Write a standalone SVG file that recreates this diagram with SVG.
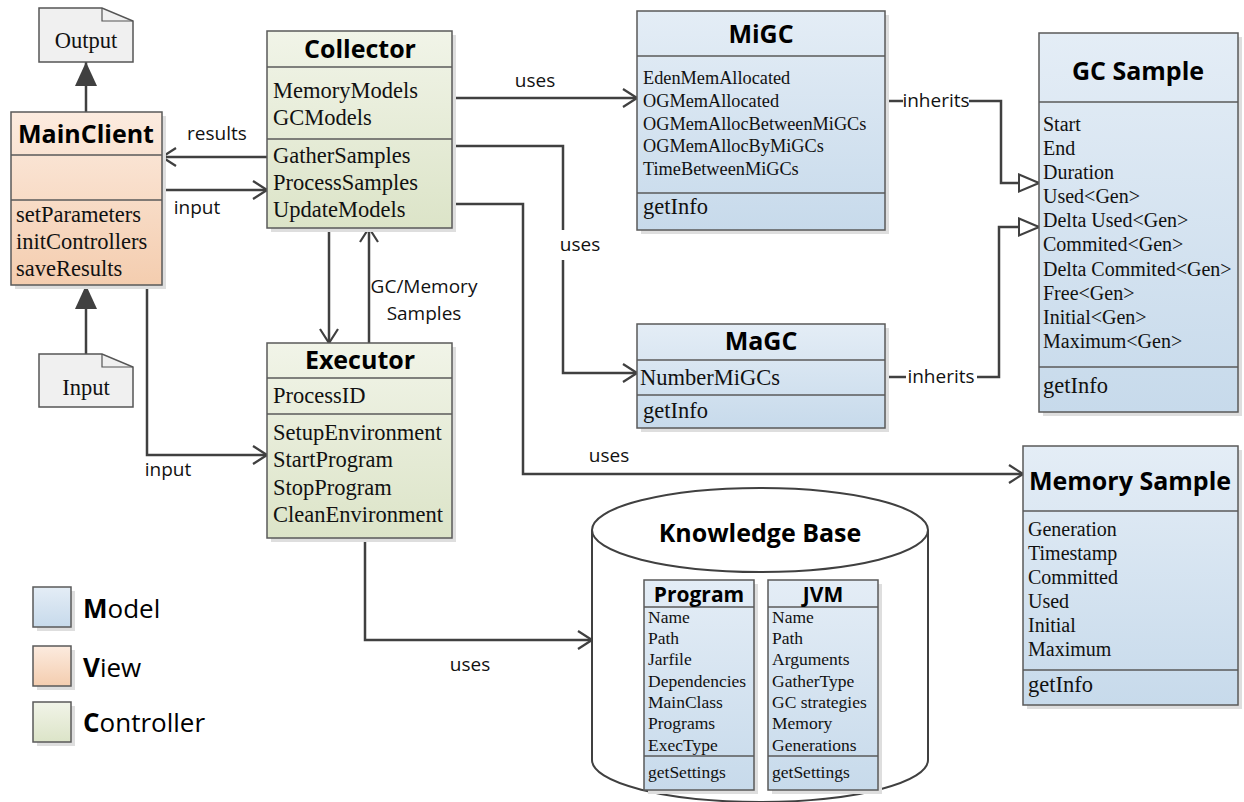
<svg xmlns="http://www.w3.org/2000/svg" width="1244" height="802" viewBox="0 0 1244 802">
<defs>
<linearGradient id="gM" x1="0" y1="0" x2="0" y2="1"><stop offset="0" stop-color="#e4edf6"/><stop offset="1" stop-color="#c7daeb"/></linearGradient>
<linearGradient id="gV" x1="0" y1="0" x2="0" y2="1"><stop offset="0" stop-color="#fcebdf"/><stop offset="1" stop-color="#f4cdaf"/></linearGradient>
<linearGradient id="gC" x1="0" y1="0" x2="0" y2="1"><stop offset="0" stop-color="#f1f4e8"/><stop offset="1" stop-color="#dce4c8"/></linearGradient>
<marker id="open" viewBox="0 0 16 20" refX="15" refY="10" markerWidth="16" markerHeight="20" orient="auto" markerUnits="userSpaceOnUse"><path d="M1,1 L15,10 L1,19" fill="none" stroke="#404040" stroke-width="2.2"/></marker>
<marker id="tri" viewBox="0 0 22 20" refX="21" refY="10" markerWidth="22" markerHeight="20" orient="auto" markerUnits="userSpaceOnUse"><path d="M1,1.5 L21,10 L1,18.5 Z" fill="#ffffff" stroke="#404040" stroke-width="2"/></marker>
<marker id="solid" viewBox="0 0 24 22" refX="24" refY="11" markerWidth="24" markerHeight="22" orient="auto" markerUnits="userSpaceOnUse"><path d="M0,0 L24,11 L0,22 Z" fill="#404040"/></marker>
</defs>
<style>
.box{stroke:#5a5a5a;stroke-width:1.5}
.sh{fill:#dedede}
.sep{stroke:#5a5a5a;stroke-width:1.5}
.hd{font-family:"Open Sans","Liberation Sans",sans-serif;font-weight:bold;font-size:25px;fill:#000;text-anchor:middle}
.hs{font-family:"Open Sans","Liberation Sans",sans-serif;font-weight:bold;font-size:21px;fill:#000;text-anchor:middle}
.t22{font-family:"Liberation Serif",serif;font-size:22.5px;fill:#111}
.t20{font-family:"Liberation Serif",serif;font-size:20px;fill:#111}
.t18{font-family:"Liberation Serif",serif;font-size:18.3px;fill:#111}
.t17{font-family:"Liberation Serif",serif;font-size:17.5px;fill:#111}
.lbl{font-family:"Open Sans","Liberation Sans",sans-serif;font-size:19px;fill:#111}
.leg{font-family:"Open Sans","Liberation Sans",sans-serif;font-size:26px;fill:#000}
.ln{fill:none;stroke:#404040;stroke-width:2.5}
.note{fill:#f0f0f0;stroke:#555;stroke-width:1.5}
</style>

<g id="connectors">
<path class="ln" d="M86,112 V62" marker-end="url(#solid)"/>
<path class="ln" d="M86,354 V285" marker-end="url(#solid)"/>
<path class="ln" d="M267,157 H162" marker-end="url(#open)"/>
<path class="ln" d="M162,190 H267" marker-end="url(#open)"/>
<path class="ln" d="M147,285 V455 H267" marker-end="url(#open)"/>
<path class="ln" d="M329,228 V343" marker-end="url(#open)"/>
<path class="ln" d="M369,343 V228" marker-end="url(#open)"/>
<path class="ln" d="M452,98 H637" marker-end="url(#open)"/>
<path class="ln" d="M452,146 H563 V230"/>
<path class="ln" d="M563,260 V373 H637" marker-end="url(#open)"/>
<path class="ln" d="M452,204 H523 V474 H1023" marker-end="url(#open)"/>
<path class="ln" d="M365,538 V640 H592" marker-end="url(#open)"/>
<path class="ln" d="M885,101 H903"/>
<path class="ln" d="M969,101 H1001 V183 H1039" marker-end="url(#tri)"/>
<path class="ln" d="M885,377 H906"/>
<path class="ln" d="M977,377 H999 V227 H1039" marker-end="url(#tri)"/>
<text class="lbl" x="217" y="140" text-anchor="middle">results</text>
<text class="lbl" x="197" y="214" text-anchor="middle">input</text>
<text class="lbl" x="168" y="476" text-anchor="middle">input</text>
<text class="lbl" x="424" y="293" text-anchor="middle">GC/Memory</text>
<text class="lbl" x="424" y="320" text-anchor="middle">Samples</text>
<text class="lbl" x="535" y="87" text-anchor="middle">uses</text>
<text class="lbl" x="580" y="251" text-anchor="middle">uses</text>
<text class="lbl" x="609" y="462" text-anchor="middle">uses</text>
<text class="lbl" x="470" y="671" text-anchor="middle">uses</text>
<text class="lbl" x="936" y="107" text-anchor="middle">inherits</text>
<text class="lbl" x="941" y="383" text-anchor="middle">inherits</text>
</g>

<g id="Output">
<path class="note" d="M39,8 H102 L133,21 V62 H39 Z"/>
<path d="M102,8 V21 H133" fill="none" stroke="#555" stroke-width="1.2"/>
<text class="t22" x="86" y="48" text-anchor="middle">Output</text>
</g>

<g id="Input">
<path class="note" d="M39,354 H102 L133,367 V407 H39 Z"/>
<path d="M102,354 V367 H133" fill="none" stroke="#555" stroke-width="1.2"/>
<text class="t22" x="86" y="395" text-anchor="middle">Input</text>
</g>

<g id="MainClient">
<rect class="sh" x="15" y="116" width="151" height="173"/>
<rect class="box" x="11" y="112" width="151" height="173" fill="url(#gV)"/>
<line class="sep" x1="11" y1="155" x2="162" y2="155"/>
<line class="sep" x1="11" y1="200" x2="162" y2="200"/>
<text class="hd" x="86" y="143">MainClient</text>
<text class="t22" x="16" y="222">setParameters</text>
<text class="t22" x="16" y="249">initControllers</text>
<text class="t22" x="16" y="276">saveResults</text>
</g>

<g id="Collector">
<rect class="sh" x="271" y="35" width="185" height="197"/>
<rect class="box" x="267" y="31" width="185" height="197" fill="url(#gC)"/>
<line class="sep" x1="267" y1="67" x2="452" y2="67"/>
<line class="sep" x1="267" y1="139" x2="452" y2="139"/>
<text class="hd" x="360" y="58">Collector</text>
<text class="t22" x="273" y="98">MemoryModels</text>
<text class="t22" x="273" y="125">GCModels</text>
<text class="t22" x="273" y="163">GatherSamples</text>
<text class="t22" x="273" y="190">ProcessSamples</text>
<text class="t22" x="273" y="217">UpdateModels</text>
</g>

<g id="Executor">
<rect class="sh" x="271" y="347" width="185" height="195"/>
<rect class="box" x="267" y="343" width="185" height="195" fill="url(#gC)"/>
<line class="sep" x1="267" y1="378" x2="452" y2="378"/>
<line class="sep" x1="267" y1="414" x2="452" y2="414"/>
<text class="hd" x="360" y="369">Executor</text>
<text class="t22" x="273" y="403">ProcessID</text>
<text class="t22" x="273" y="440">SetupEnvironment</text>
<text class="t22" x="273" y="467">StartProgram</text>
<text class="t22" x="273" y="495">StopProgram</text>
<text class="t22" x="273" y="522">CleanEnvironment</text>
</g>

<g id="MiGC">
<rect class="sh" x="641" y="15" width="248" height="219"/>
<rect class="box" x="637" y="11" width="248" height="219" fill="url(#gM)"/>
<line class="sep" x1="637" y1="56" x2="885" y2="56"/>
<line class="sep" x1="637" y1="193" x2="885" y2="193"/>
<text class="hd" x="761" y="43">MiGC</text>
<text class="t18" x="643" y="84">EdenMemAllocated</text>
<text class="t18" x="643" y="107">OGMemAllocated</text>
<text class="t18" x="643" y="130">OGMemAllocBetweenMiGCs</text>
<text class="t18" x="643" y="152">OGMemAllocByMiGCs</text>
<text class="t18" x="643" y="175">TimeBetweenMiGCs</text>
<text class="t22" x="643" y="214">getInfo</text>
</g>

<g id="MaGC">
<rect class="sh" x="641" y="328" width="248" height="104"/>
<rect class="box" x="637" y="324" width="248" height="104" fill="url(#gM)"/>
<line class="sep" x1="637" y1="360" x2="885" y2="360"/>
<line class="sep" x1="637" y1="395" x2="885" y2="395"/>
<text class="hd" x="761" y="350">MaGC</text>
<text class="t22" x="640" y="385">NumberMiGCs</text>
<text class="t22" x="643" y="418">getInfo</text>
</g>

<g id="GCSample">
<rect class="sh" x="1043" y="37" width="199" height="379"/>
<rect class="box" x="1039" y="33" width="199" height="379" fill="url(#gM)"/>
<line class="sep" x1="1039" y1="102" x2="1238" y2="102"/>
<line class="sep" x1="1039" y1="367" x2="1238" y2="367"/>
<text class="hd" x="1138" y="80">GC Sample</text>
<text class="t20" x="1043" y="131">Start</text>
<text class="t20" x="1043" y="155">End</text>
<text class="t20" x="1043" y="179">Duration</text>
<text class="t20" x="1043" y="203">Used&lt;Gen&gt;</text>
<text class="t20" x="1043" y="227">Delta Used&lt;Gen&gt;</text>
<text class="t20" x="1043" y="251">Commited&lt;Gen&gt;</text>
<text class="t20" x="1043" y="276">Delta Commited&lt;Gen&gt;</text>
<text class="t20" x="1043" y="300">Free&lt;Gen&gt;</text>
<text class="t20" x="1043" y="324">Initial&lt;Gen&gt;</text>
<text class="t20" x="1043" y="348">Maximum&lt;Gen&gt;</text>
<text class="t22" x="1043" y="393">getInfo</text>
</g>

<g id="MemorySample">
<rect class="sh" x="1027" y="450" width="215" height="259"/>
<rect class="box" x="1023" y="446" width="215" height="259" fill="url(#gM)"/>
<line class="sep" x1="1023" y1="511" x2="1238" y2="511"/>
<line class="sep" x1="1023" y1="670" x2="1238" y2="670"/>
<text class="hd" x="1130" y="490">Memory Sample</text>
<text class="t20" x="1028" y="536">Generation</text>
<text class="t20" x="1028" y="560">Timestamp</text>
<text class="t20" x="1028" y="584">Committed</text>
<text class="t20" x="1028" y="608">Used</text>
<text class="t20" x="1028" y="632">Initial</text>
<text class="t20" x="1028" y="656">Maximum</text>
<text class="t22" x="1028" y="692">getInfo</text>
</g>

<g id="KnowledgeBase">
<path d="M592,530 V760 A168,42 0 0 0 928,760 V530" fill="#ffffff" stroke="#404040" stroke-width="2"/>
<ellipse cx="760" cy="530" rx="168" ry="42" fill="#ffffff" stroke="#404040" stroke-width="2"/>
<text class="hd" x="760" y="542">Knowledge Base</text>
</g>

<g id="Program">
<rect class="sh" x="648" y="584" width="110" height="210"/>
<rect class="box" x="644" y="580" width="110" height="210" fill="url(#gM)"/>
<line class="sep" x1="644" y1="607" x2="754" y2="607"/>
<line class="sep" x1="644" y1="756" x2="754" y2="756"/>
<text class="hs" x="699" y="602">Program</text>
<text class="t17" x="648" y="623">Name</text>
<text class="t17" x="648" y="644">Path</text>
<text class="t17" x="648" y="665">Jarfile</text>
<text class="t17" x="648" y="687">Dependencies</text>
<text class="t17" x="648" y="708">MainClass</text>
<text class="t17" x="648" y="729">Programs</text>
<text class="t17" x="648" y="751">ExecType</text>
<text class="t17" x="648" y="778">getSettings</text>
</g>

<g id="JVM">
<rect class="sh" x="772" y="584" width="110" height="210"/>
<rect class="box" x="768" y="580" width="110" height="210" fill="url(#gM)"/>
<line class="sep" x1="768" y1="607" x2="878" y2="607"/>
<line class="sep" x1="768" y1="756" x2="878" y2="756"/>
<text class="hs" x="823" y="602">JVM</text>
<text class="t17" x="772" y="623">Name</text>
<text class="t17" x="772" y="644">Path</text>
<text class="t17" x="772" y="665">Arguments</text>
<text class="t17" x="772" y="687">GatherType</text>
<text class="t17" x="772" y="708">GC strategies</text>
<text class="t17" x="772" y="729">Memory</text>
<text class="t17" x="772" y="751">Generations</text>
<text class="t17" x="772" y="778">getSettings</text>
</g>

<g id="Legend">
<rect class="sh" x="37" y="591" width="38" height="40"/>
<rect class="box" x="33" y="587" width="38" height="40" fill="url(#gM)"/>
<rect class="sh" x="37" y="650" width="38" height="40"/>
<rect class="box" x="33" y="646" width="38" height="40" fill="url(#gV)"/>
<rect class="sh" x="37" y="706" width="38" height="40"/>
<rect class="box" x="33" y="702" width="38" height="40" fill="url(#gC)"/>
<text class="leg" x="83" y="618"><tspan font-weight="bold">M</tspan>odel</text>
<text class="leg" x="83" y="677"><tspan font-weight="bold">V</tspan>iew</text>
<text class="leg" x="83" y="732"><tspan font-weight="bold">C</tspan>ontroller</text>
</g>
</svg>
